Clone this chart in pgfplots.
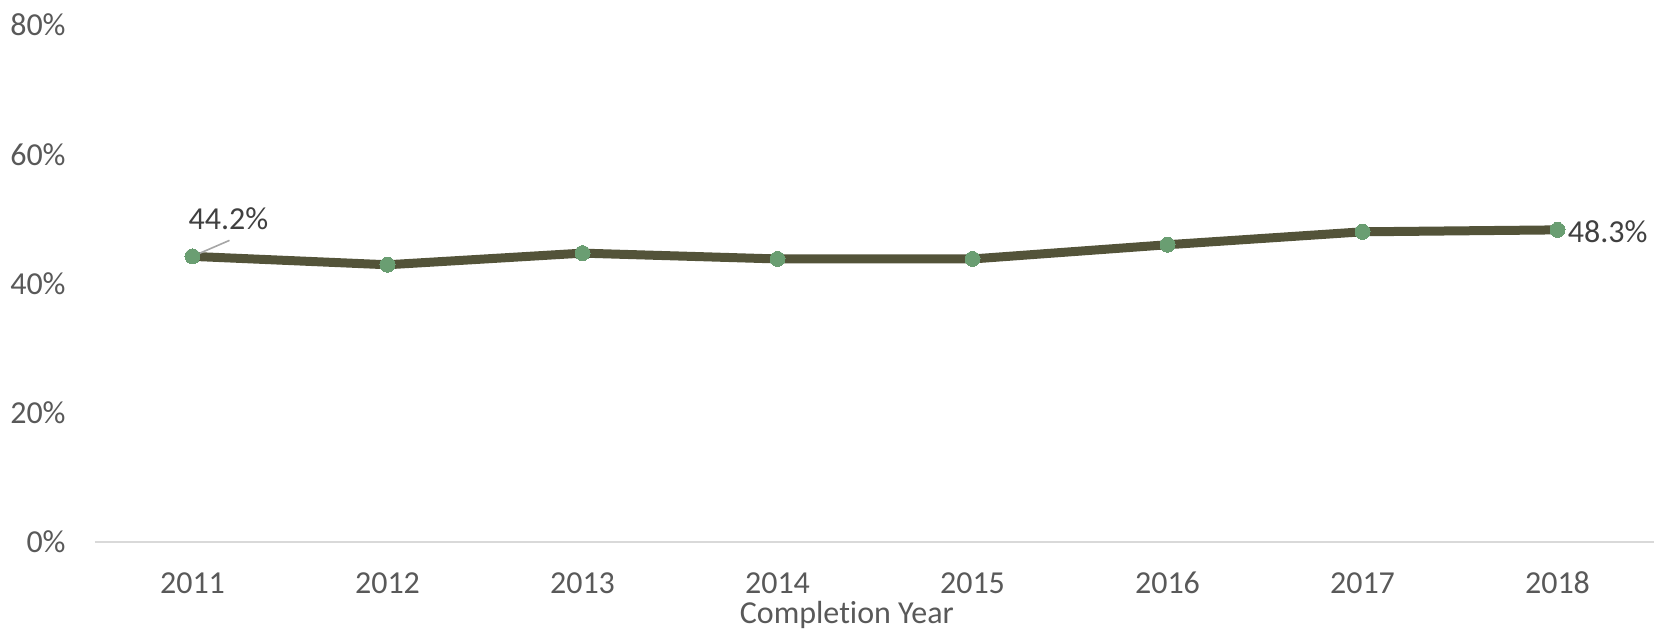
\documentclass[border=0pt]{standalone}
\usepackage{pgfplots}
\pgfplotsset{compat=1.18}
\usepackage{fontspec}
\setmainfont{Carlito}[Ligatures=NoCommon]
\definecolor{linec}{HTML}{535339}
\definecolor{markc}{HTML}{6A9E72}
\definecolor{tickc}{HTML}{595959}
\definecolor{labc}{HTML}{404040}
\definecolor{axc}{HTML}{D9D9D9}
\begin{document}
\begin{tikzpicture}
\begin{axis}[
  at={(0,0)}, anchor=south west,
  width=780pt, height=258.5pt, scale only axis,
  xmin=-0.5, xmax=7.5, ymin=0, ymax=80,
  xtick={0,1,2,3,4,5,6,7},
  xticklabels={2011,2012,2013,2014,2015,2016,2017,2018},
  ytick={0,20,40,60,80},
  yticklabels={0\%,20\%,40\%,60\%,80\%},
  major tick length=0pt,
  axis x line*=bottom,
  axis y line*=left,
  x axis line style={draw=axc, line width=1pt, -},
  y axis line style={draw=none},
  font=\fontsize{16}{19}\selectfont,
  xticklabel style={anchor=center, inner sep=0pt, yshift=-20.5pt, text=tickc, font=\fontsize{16}{19}\selectfont},
  yticklabel style={anchor=east, inner sep=0pt, xshift=-14.5pt, text=tickc, font=\fontsize{16}{19}\selectfont},
  xlabel={Completion Year},
  xlabel style={at={(rel axis cs:0.482,0)}, anchor=center, inner sep=0pt, yshift=-36.5pt, text=tickc, font=\fontsize{16}{19}\selectfont},
  clip=false,
]
\addplot[color=linec, line width=4.5pt, line join=round, no marks]
  coordinates {(0,44.2) (1,42.9) (2,44.7) (3,43.8) (4,43.8) (5,46.0) (6,48.0) (7,48.3)};
\addplot[only marks, mark=*, mark size=3.75pt, mark options={draw=markc, fill=markc, line width=0pt}]
  coordinates {(0,44.2) (1,42.9) (2,44.7) (3,43.8) (4,43.8) (5,46.0) (6,48.0) (7,48.3)};
\addplot[draw=none, mark=none,
  nodes near coords={44.2\%},
  every node near coord/.append style={anchor=center, inner sep=0pt, xshift=18pt, yshift=19pt, text=labc, font=\fontsize{16}{19}\selectfont}]
  coordinates {(0,44.2)};
\addplot[draw=none, mark=none,
  nodes near coords={48.3\%},
  every node near coord/.append style={anchor=west, inner sep=0pt, xshift=5pt, yshift=-1pt, text=labc, font=\fontsize{16}{19}\selectfont}]
  coordinates {(7,48.3)};
\draw[color=gray!70, line width=0.8pt] (axis cs:0,44.2) -- ++(18.5pt,8pt);
\end{axis}
\pgfresetboundingbox
\useasboundingbox (-47.5pt,-43.5pt) rectangle (779.5pt,271pt);
\end{tikzpicture}
\end{document}
